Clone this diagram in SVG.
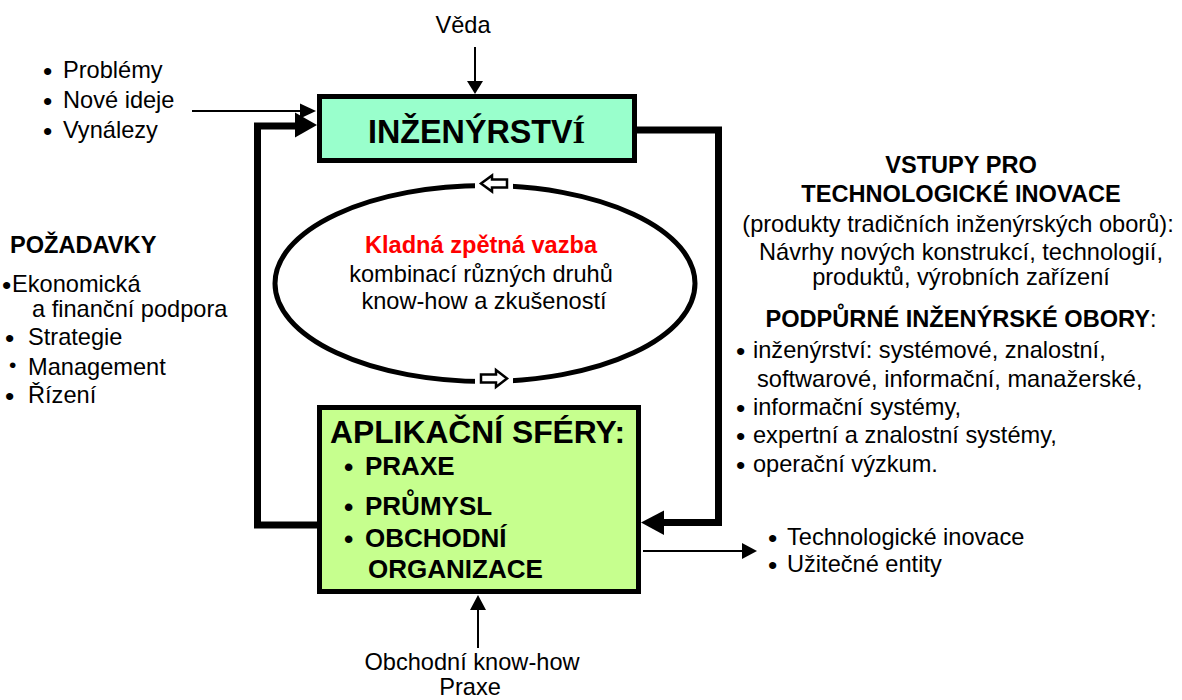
<svg xmlns="http://www.w3.org/2000/svg" width="1182" height="700" viewBox="0 0 1182 700">
  <style>
    text { font-family: "Liberation Sans", Arial, sans-serif; font-size: 23.6px; fill: #000; }
    .b { font-weight: bold; }
    .mid { text-anchor: middle; }
    .bul { font-size: 26.5px; }
    .box { stroke: #000; stroke-width: 5; }
    .thick { fill: none; stroke: #000; stroke-width: 7; stroke-linejoin: miter; }
    .thin { fill: none; stroke: #000; stroke-width: 2; }
    .head { fill: #000; stroke: none; }
    .hollow { fill: #fff; stroke: #000; stroke-width: 2.5; stroke-linejoin: miter; }
  </style>

  <!-- connectors -->
  <g id="connectors">
    <!-- main loop: engineering -> application spheres -->
    <path class="thick" d="M637,130 H718.5 V522.5 H660"/>
    <polygon class="head" points="641,522.5 664,510.5 664,535"/>
    <!-- main loop: application spheres -> engineering -->
    <path class="thick" d="M318,525 H257.5 V126 H298"/>
    <polygon class="head" points="317,125 295,112.5 295,137.5"/>
    <!-- new ideas input -->
    <path class="thin" d="M192,111 H303"/>
    <polygon class="head" points="316,111 300,103.5 300,118.5"/>
    <!-- science input -->
    <path class="thin" d="M475,47 V84"/>
    <polygon class="head" points="475,94 467,81 483,81"/>
    <!-- business know-how input -->
    <path class="thin" d="M478,648 V608"/>
    <polygon class="head" points="478,595 470,610 486,610"/>
    <!-- output -->
    <path class="thin" d="M643,551 H745"/>
    <polygon class="head" points="757,551 742,543 742,559"/>
  </g>

  <!-- feedback cycle -->
  <g id="feedback">
    <ellipse cx="485" cy="283.5" rx="210" ry="98" fill="#fff" stroke="#000" stroke-width="5"/>
    <rect x="475" y="177" width="38" height="15" fill="#fff"/>
    <rect x="475" y="374" width="38" height="15" fill="#fff"/>
    <polygon class="hollow" points="481,183.5 492,175.5 492,179.5 507,179.5 507,187.5 492,187.5 492,191.5"/>
    <polygon class="hollow" points="507,378.5 496,370 496,374.5 481,374.5 481,382.5 496,382.5 496,387"/>
    <text class="b mid" x="481" y="253" style="fill:#ff0000">Kladná zpětná vazba</text>
    <text class="mid" x="481" y="282">kombinací různých  druhů</text>
    <text class="mid" x="484" y="309">know-how a zkušeností</text>
  </g>

  <!-- engineering box -->
  <g id="inzenyrstvi">
    <rect class="box" x="319.5" y="96.5" width="315" height="64" fill="#99ffcc"/>
    <text class="b" x="368" y="143" style="font-size:32.3px">INŽENÝRSTV<tspan style="font-family:'Liberation Serif',serif">Í</tspan></text>
  </g>

  <!-- application spheres box -->
  <g id="aplikacni-sfery">
    <rect class="box" x="319.5" y="407.5" width="319" height="184" fill="#c6ff8e"/>
    <text class="b" x="330" y="443" style="font-size:31.8px">APLIKAČNÍ SFÉRY:</text>
    <text class="b" style="font-size:26px"><tspan class="bul" x="344" y="476">•</tspan><tspan x="365" y="475">PRAXE</tspan></text>
    <text class="b" style="font-size:26px"><tspan class="bul" x="344" y="516">•</tspan><tspan x="365" y="515">PRŮMYSL</tspan></text>
    <text class="b" style="font-size:26px"><tspan class="bul" x="344" y="548">•</tspan><tspan x="365" y="547">OBCHODNÍ</tspan></text>
    <text class="b" x="368" y="578" style="font-size:26px">ORGANIZACE</text>
  </g>

  <!-- science -->
  <g id="veda">
    <text class="mid" x="463" y="33">Věda</text>
  </g>

  <!-- inputs: problems, ideas, inventions -->
  <g id="podnety">
    <text><tspan class="bul" x="43" y="80">•</tspan><tspan x="63" y="78">Problémy</tspan></text>
    <text><tspan class="bul" x="43" y="110">•</tspan><tspan x="63" y="108">Nové ideje</tspan></text>
    <text><tspan class="bul" x="43" y="140">•</tspan><tspan x="63" y="138">Vynálezy</tspan></text>
  </g>

  <!-- requirements -->
  <g id="pozadavky">
    <text class="b" x="10" y="253">POŽADAVKY</text>
    <text><tspan class="bul" x="2" y="294">•</tspan><tspan x="12" y="292">Ekonomická</tspan></text>
    <text x="32" y="317">a finanční podpora</text>
    <text><tspan class="bul" x="5" y="347">•</tspan><tspan x="28" y="345">Strategie</tspan></text>
    <text><tspan x="9" y="372" style="font-size:21px">•</tspan><tspan x="28" y="375">Management</tspan></text>
    <text><tspan class="bul" x="5" y="405">•</tspan><tspan x="28" y="403">Řízení</tspan></text>
  </g>

  <!-- inputs for technological innovation -->
  <g id="vstupy">
    <text class="b mid" x="961" y="173">VSTUPY PRO</text>
    <text class="b mid" x="961" y="202">TECHNOLOGICKÉ INOVACE</text>
    <text class="mid" x="958" y="232">(produkty tradičních inženýrských oborů):</text>
    <text class="mid" x="961" y="260">Návrhy nových konstrukcí, technologií,</text>
    <text class="mid" x="961" y="285">produktů, výrobních zařízení</text>
  </g>

  <!-- supporting engineering disciplines -->
  <g id="podpurne-obory">
    <text class="mid" x="961" y="327"><tspan class="b">PODPŮRNÉ INŽENÝRSKÉ OBORY</tspan>:</text>
    <text><tspan class="bul" x="736" y="360">•</tspan><tspan x="753" y="358">inženýrství: systémové, znalostní,</tspan></text>
    <text x="757" y="387">softwarové, informační, manažerské,</text>
    <text><tspan class="bul" x="736" y="417">•</tspan><tspan x="753" y="415">informační systémy,</tspan></text>
    <text><tspan class="bul" x="736" y="445">•</tspan><tspan x="753" y="443">expertní a znalostní systémy,</tspan></text>
    <text><tspan class="bul" x="736" y="474">•</tspan><tspan x="753" y="472">operační výzkum.</tspan></text>
  </g>

  <!-- outputs -->
  <g id="vystupy">
    <text><tspan class="bul" x="768" y="547">•</tspan><tspan x="787" y="545">Technologické inovace</tspan></text>
    <text><tspan class="bul" x="768" y="574">•</tspan><tspan x="787" y="572">Užitečné entity</tspan></text>
  </g>

  <!-- business know-how -->
  <g id="obchodni-know-how">
    <text class="mid" x="472" y="670">Obchodní know-how</text>
    <text class="mid" x="470" y="695">Praxe</text>
  </g>
</svg>
